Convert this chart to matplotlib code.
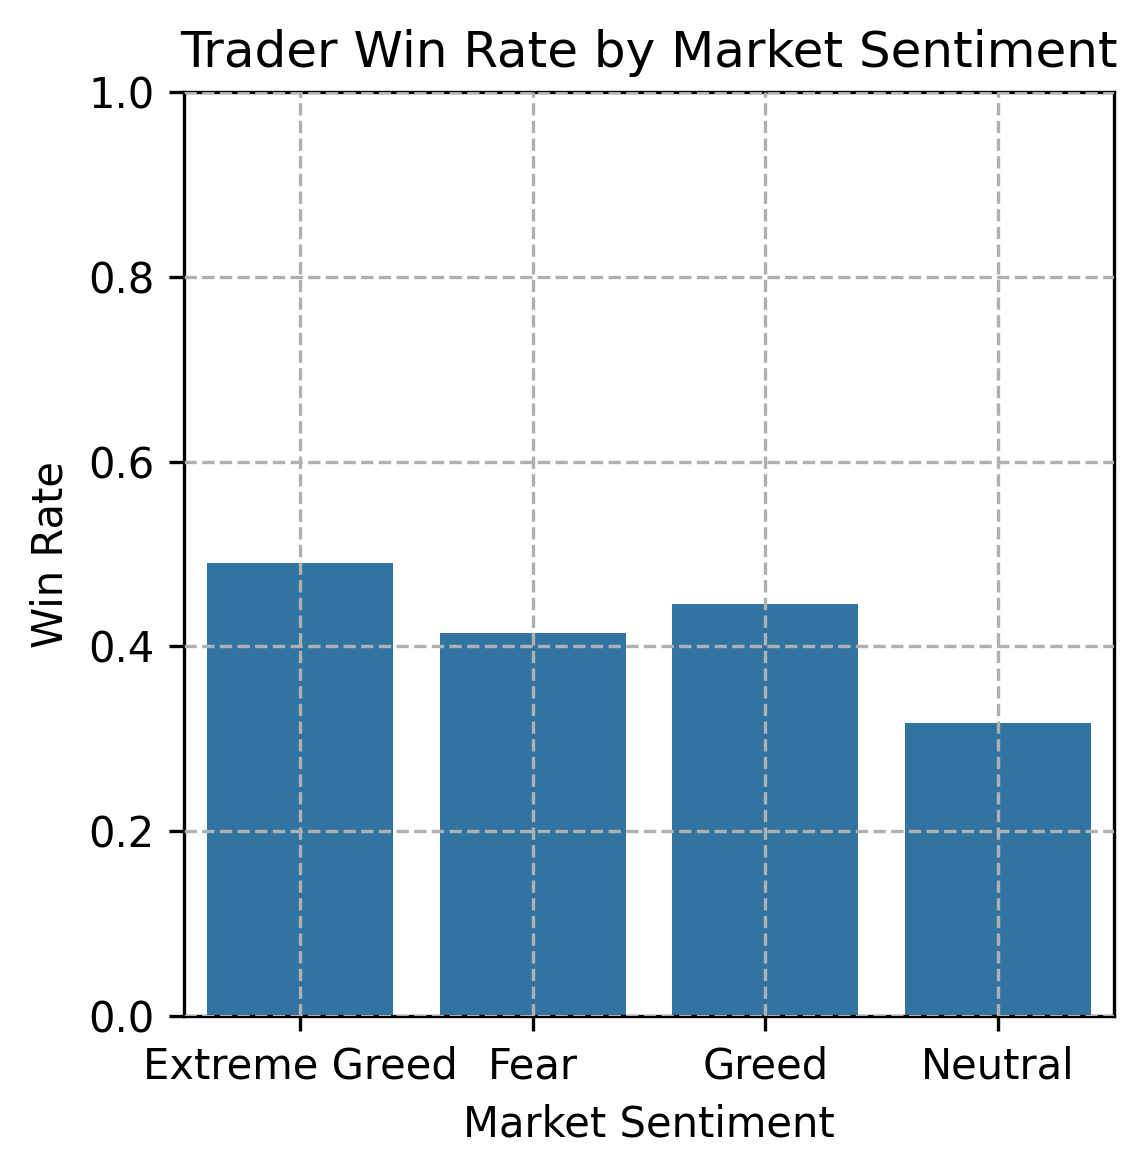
import matplotlib
matplotlib.use("Agg")
import matplotlib.pyplot as plt

sentiments = ["Extreme Greed", "Fear", "Greed", "Neutral"]
win_rates = [0.490, 0.4145, 0.446, 0.317]

fig = plt.figure(figsize=(1148 / 300, 1176 / 300), dpi=300)
ax = fig.add_axes([184 / 1148, 1 - 1016 / 1176, (1114 - 184) / 1148, (1016 - 92) / 1176])
ax.bar(range(len(sentiments)), win_rates, width=0.8, color="#3274a1", zorder=2)
ax.set_xticks(range(len(sentiments)))
ax.set_xticklabels(sentiments)
ax.set_xlim(-0.5, len(sentiments) - 0.5)
ax.set_ylim(0, 1)
ax.grid(True, linestyle="--", color="#b0b0b0", linewidth=0.8, zorder=3)
ax.set_axisbelow(False)
ax.set_title("Trader Win Rate by Market Sentiment")
ax.set_xlabel("Market Sentiment")
ax.set_ylabel("Win Rate")
fig.savefig("out.png", dpi=300)
